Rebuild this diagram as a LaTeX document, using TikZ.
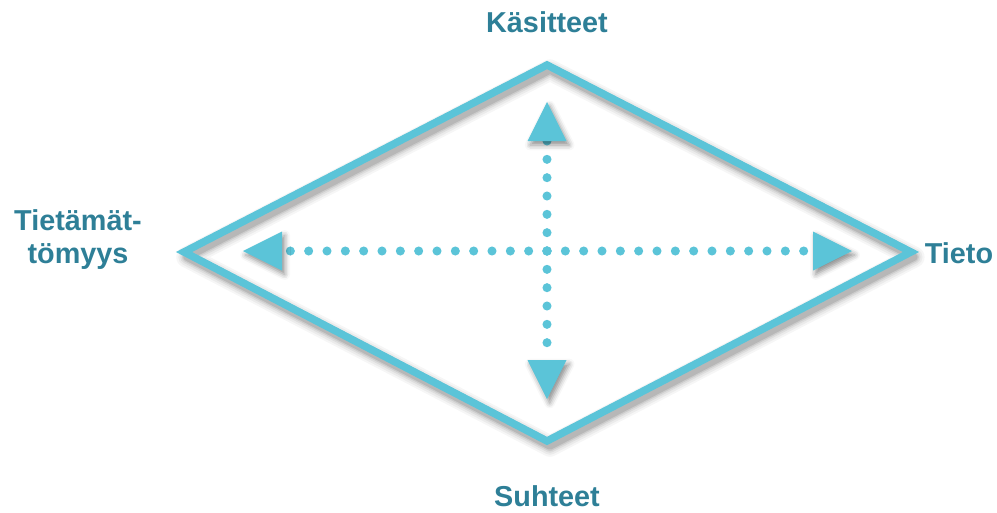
\documentclass[tikz,border=0pt]{standalone}
\usepackage{fontspec}
\setmainfont{Liberation Sans}
\usetikzlibrary{shadows.blur}
\definecolor{rim}{HTML}{5BC4D8}
\definecolor{labelc}{HTML}{2E7F97}

\begin{document}
\begin{tikzpicture}[x=0.75pt,y=-0.75pt,
  lab/.style={font=\bfseries\fontsize{21.6}{24.75}\selectfont, text=labelc, inner sep=0pt, align=center},
  edge/.style={draw=rim, line width=5.6pt, line join=miter},
  dots/.style={draw=rim, line width=6.8pt, line cap=round, dash pattern=on 0pt off 13.75pt},
  head/.style={fill=rim, blur shadow={shadow xshift=2pt, shadow yshift=-3pt, shadow blur radius=4pt, shadow opacity=45}}]
\useasboundingbox (0,0) rectangle (997,512);

% diamond corners and centre
\coordinate (T) at (547,65);
\coordinate (R) at (911,252);
\coordinate (B) at (547,441);
\coordinate (L) at (184,252);
\coordinate (C) at (547,251);

% soft drop shadow under the outline
\begin{scope}[transform canvas={shift={(2.2pt,-3.8pt)}}]
  \foreach \w/\o in {16/0.035, 13/0.045, 10/0.06, 7.5/0.08, 5.5/0.1}{
    \draw[black, opacity=\o, line width=\w pt, line join=round] (T)--(R)--(B)--(L)--cycle;
  }
\end{scope}

% outline
\draw[edge] (T)--(R)--(B)--(L)--cycle;

% dotted axes, drawn outward from the centre
\coordinate (up) at (547,141);
\coordinate (dn) at (547,360);
\coordinate (lf) at (282,251);
\coordinate (rt) at (813,251);
\draw[dots] (C) -- (up);
\draw[dots] (C) -- (dn);
\draw[dots] (C) -- (lf);
\draw[dots] (C) -- (rt);

% arrow heads
\path[head] (547,102) -- (566.5,141) -- (527.5,141) -- cycle;
\path[head] (547,399) -- (566.5,360) -- (527.5,360) -- cycle;
\path[head] (243,251) -- (282,231.5) -- (282,270.5) -- cycle;
\path[head] (852,251) -- (813,231.5) -- (813,270.5) -- cycle;

% labels
\node[lab] (top) at (547,22) {Käsitteet};
\node[lab] (bottom) at (547,496) {Suhteet};
\node[lab] (right) at (959,253) {Tieto};
\node[lab] (left) at (78,240) {Tietämät-\\tömyys};
\end{tikzpicture}
\end{document}
